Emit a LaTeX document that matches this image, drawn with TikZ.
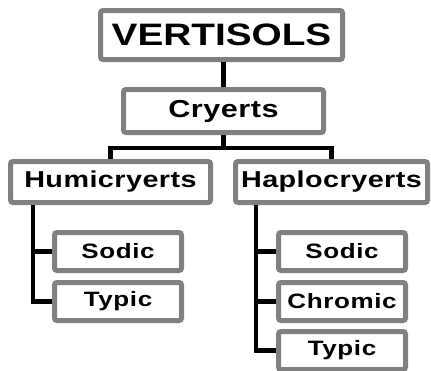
\documentclass[tikz,border=0pt]{standalone}
\usepackage{fontspec}
\setmainfont{Liberation Sans}
\usetikzlibrary{positioning}
\definecolor{boxgray}{RGB}{128,128,128}
\tikzset{
    taxon/.style = {
        rectangle, draw=boxgray,
        line width=5pt,
        rounded corners=2.5pt,
        fill=white,
        inner sep=0pt,
        align=center
    },
    order/.style = {
        taxon,
        minimum width=242pt,
        minimum height=49pt,
        font=\bfseries\fontsize{31}{36}\selectfont\addfontfeature{FakeStretch=1.25}
    },
    suborder/.style = {
        taxon,
        minimum width=200pt,
        minimum height=43pt,
        font=\bfseries\fontsize{24.5}{28}\selectfont\addfontfeature{FakeStretch=1.25,LetterSpace=2}
    },
    greatgroup/.style = {
        taxon,
        minimum height=41pt,
        font=\bfseries\fontsize{23}{26}\selectfont\addfontfeature{FakeStretch=1.25,LetterSpace=2}
    },
    subgroup/.style = {
        taxon,
        minimum width=127pt,
        minimum height=38pt,
        font=\bfseries\fontsize{20.8}{24}\selectfont\addfontfeature{FakeStretch=1.25,LetterSpace=3}
    },
    link/.style = {
        line width=4.2pt
    }
}
\begin{document}
\begin{tikzpicture}[x=1pt, y=-1pt]

\useasboundingbox (0,0) rectangle (431,370);

\node (vert) [order] at (221.5,35) {VERTISOLS};
\node (cry) [suborder] at (223.5,111) {Cryerts};
\node (humi) [greatgroup, minimum width=200pt] at (110.5,182) {Humicryerts};
\node (hapl) [greatgroup, minimum width=192pt] at (331.5,182) {Haplocryerts};

\node (hsodic) [subgroup] at (118,251.5) {Sodic};
\node (htypic) [subgroup] at (118,301.5) {Typic};
\node (psodic) [subgroup] at (342,251.5) {Sodic};
\node (pchrom) [subgroup] at (342,301.5) {Chromic};
\node (ptypic) [subgroup] at (342,350.5) {Typic};

\coordinate [below=13pt of cry.south] (split);
\coordinate [left=19pt of hsodic.west] (hstem);
\coordinate [left=20pt of psodic.west] (pstem);

\draw [link] (vert.south -| cry.north) -- (cry.north);
\draw [link] (cry.south) -- (split) -| (humi.north);
\draw [link] (split) -| (hapl.north);

\draw [link] (humi.south -| hstem) |- (htypic.west);
\draw [link] (hstem) -- (hsodic.west);

\draw [link] (hapl.south -| pstem) |- (ptypic.west);
\draw [link] (pstem) -- (psodic.west);
\draw [link] (pstem |- pchrom.west) -- (pchrom.west);

\end{tikzpicture}
\end{document}
